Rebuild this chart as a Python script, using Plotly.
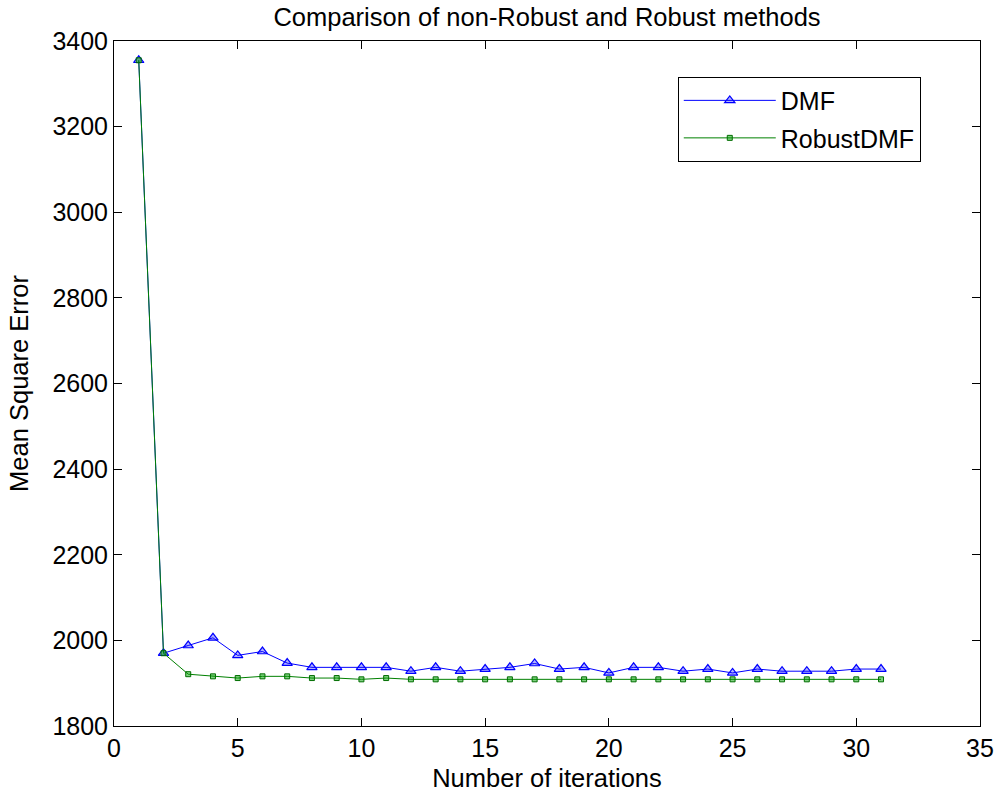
import plotly.graph_objects as go

iterations = list(range(1, 32))
dmf = [3355, 1970, 1988, 2006, 1965, 1974, 1947, 1937, 1937, 1937, 1937, 1928,
       1937, 1928, 1933, 1937, 1946, 1933, 1937, 1924, 1937, 1937, 1928, 1933,
       1924, 1933, 1928, 1928, 1928, 1933, 1933]
robust = [3355, 1970, 1921, 1916, 1912, 1916, 1916, 1912, 1912, 1909, 1912, 1909,
          1909, 1909, 1909, 1909, 1909, 1909, 1909, 1909, 1909, 1909, 1909, 1909,
          1909, 1909, 1909, 1909, 1909, 1909, 1909]

fig = go.Figure()
fig.add_trace(go.Scatter(x=iterations, y=dmf, mode="lines+markers", name="DMF",
                         legendgroup="a",
                         line=dict(color="rgb(0,0,255)", width=1),
                         marker=dict(symbol="triangle-up", size=9, color="rgba(0,0,255,0.3)",
                                     line=dict(color="rgb(0,0,255)", width=1.2))))
fig.add_trace(go.Scatter(x=iterations, y=robust, mode="lines+markers", name="RobustDMF",
                         legendgroup="b",
                         line=dict(color="rgb(0,128,0)", width=1),
                         marker=dict(symbol="square", size=5, color="rgba(0,160,0,0.5)",
                                     line=dict(color="rgb(0,110,0)", width=1))))

axis_common = dict(showline=True, linecolor="black", linewidth=1, mirror="ticks",
                   ticks="inside", ticklen=8, tickcolor="black", showgrid=False,
                   zeroline=False, automargin=False,
                   tickfont=dict(size=25, color="black"))
fig.update_layout(
    width=999, height=798,
    paper_bgcolor="white", plot_bgcolor="white",
    font=dict(family="Liberation Sans, Arial", color="black"),
    margin=dict(l=114, r=19, t=41, b=72),
    title=dict(text="Comparison of non-Robust and Robust methods", x=0.5, xanchor="center",
               xref="paper", y=0.979, yanchor="middle", yref="container",
               font=dict(size=25.5)),
    xaxis=dict(range=[0, 35], dtick=5, tick0=0,
               title=dict(text="Number of iterations", font=dict(size=25.5), standoff=8),
               **axis_common),
    yaxis=dict(range=[1800, 3400], dtick=200, tick0=1800,
               title=dict(text="Mean Square Error", font=dict(size=25.5), standoff=16),
               **axis_common),
    legend=dict(x=0.651, y=0.948, xanchor="left", yanchor="top",
                bordercolor="black", borderwidth=1, bgcolor="white",
                font=dict(size=25), itemwidth=92, traceorder="grouped",
                tracegroupgap=2),
    showlegend=True,
)
fig.write_html("out.html", config={"displayModeBar": False},
               post_script="document.body.style.margin='0';document.body.style.overflow='hidden';")
